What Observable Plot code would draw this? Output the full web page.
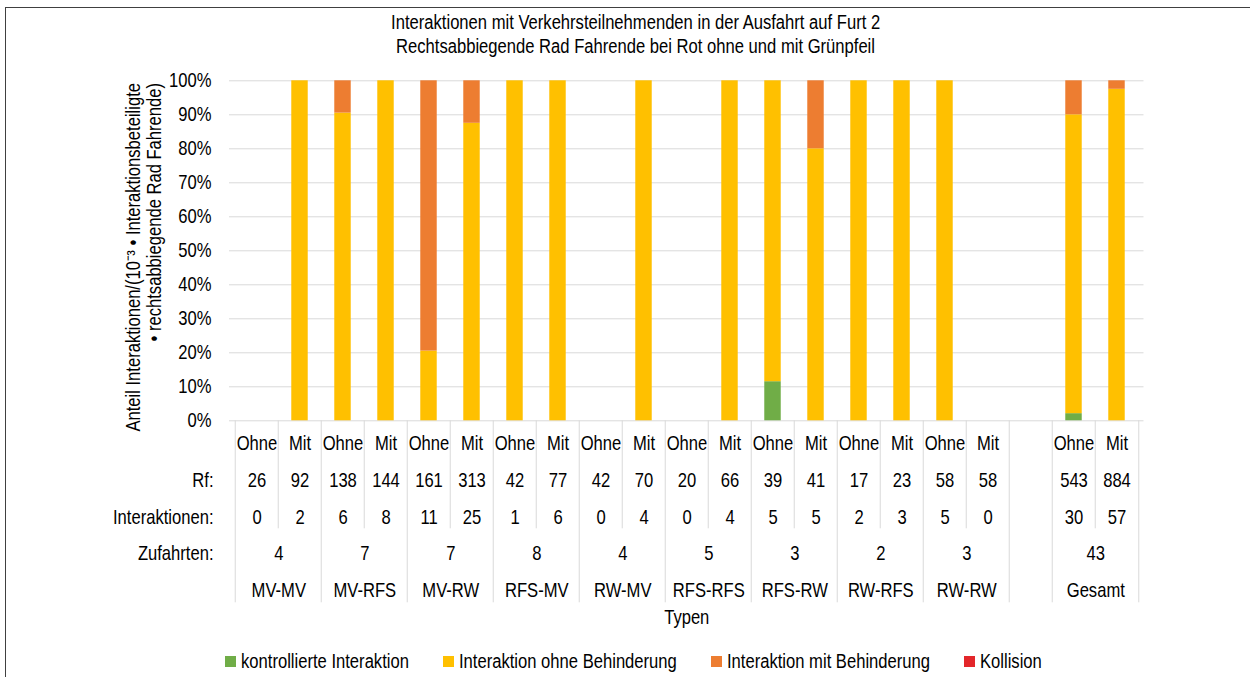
<!DOCTYPE html>
<html>
<head>
<meta charset="utf-8">
<script src="https://cdn.jsdelivr.net/npm/d3@7"></script>
<script src="https://cdn.jsdelivr.net/npm/@observablehq/plot@0.6"></script>
<style>
  html, body { margin: 0; padding: 0; background: #fff; }
  body { width: 1250px; height: 677px; position: relative; overflow: hidden;
         font-family: "Liberation Sans", Arial, sans-serif; color: #000; }
  #border { position: absolute; left: 5px; top: 7px; width: 1300px; height: 700px;
            border-top: 1.5px solid #404040; border-left: 1.5px solid #404040; }
  #title { position: absolute; left: 0; top: 10px; width: 1271px; text-align: center;
           font-size: 20px; line-height: 24px; }
  #title span { display: inline-block; transform: scaleX(0.83); transform-origin: center; white-space: nowrap; }
  #chart { position: absolute; left: 0; top: 0; }
  #overlay { position: absolute; left: 0; top: 0; }
  #legend { position: absolute; left: 225px; top: 650px; display: flex; gap: 34px;
            font-size: 20px; line-height: 22px; white-space: nowrap; }
  #legend .item { display: flex; align-items: center; }
  #legend .sw { width: 11px; height: 11px; margin-right: 5px; flex: none; }
  #legend .lab { display: inline-block; transform: scaleX(0.83); transform-origin: left center; }
</style>
</head>
<body>
<div id="border"></div>
<div id="title">
  <div><span>Interaktionen mit Verkehrsteilnehmenden in der Ausfahrt auf Furt 2</span></div>
  <div><span>Rechtsabbiegende Rad Fahrende bei Rot ohne und mit Grünpfeil</span></div>
</div>
<div id="chart"></div>
<svg id="overlay" width="1250" height="677"></svg>
<div id="legend"></div>
<script>
// ---------------- data ----------------
const types = ["MV-MV", "MV-RFS", "MV-RW", "RFS-MV", "RW-MV", "RFS-RFS", "RFS-RW", "RW-RFS", "RW-RW", "Gesamt"];
const variants = ["Ohne", "Mit"];
const rf            = [26, 92, 138, 144, 161, 313, 42, 77, 42, 70, 20, 66, 39, 41, 17, 23, 58, 58, 543, 884];
const interaktionen = [0, 2, 6, 8, 11, 25, 1, 6, 0, 4, 0, 4, 5, 5, 2, 3, 5, 0, 30, 57];
const zufahrten     = [4, 7, 7, 8, 4, 5, 3, 2, 3, 43];
// shares in % per slot (type x variant), stacked bottom to top
const kontrolliert    = [0, 0, 0, 0, 0, 0, 0, 0, 0, 0, 0, 0, 11.5, 0, 0, 0, 0, 0, 2.1, 0];
const ohneBehinderung = [0, 100, 90.5, 100, 20.5, 87.5, 100, 100, 0, 100, 0, 100, 88.5, 80, 100, 100, 100, 0, 87.9, 97.5];
const mitBehinderung  = [0, 0, 9.5, 0, 79.5, 12.5, 0, 0, 0, 0, 0, 0, 0, 20, 0, 0, 0, 0, 10, 2.5];
const kollision       = [0, 0, 0, 0, 0, 0, 0, 0, 0, 0, 0, 0, 0, 0, 0, 0, 0, 0, 0, 0];
const categories = ["kontrollierte Interaktion", "Interaktion ohne Behinderung", "Interaktion mit Behinderung", "Kollision"];
const colors = ["#70ad47", "#ffc000", "#ed7d31", "#e3262a"];
const yTicks = [0, 0.1, 0.2, 0.3, 0.4, 0.5, 0.6, 0.7, 0.8, 0.9, 1];
const rowLabels = ["Rf:", "Interaktionen:", "Zufahrten:"];
const yTitle = ["Anteil Interaktionen/(10⁻³ • Interaktionsbeteiligte", "• rechtsabbiegende Rad Fahrende)"];
const xTitle = "Typen";
const GAP = "—";

// ---------------- derived tables ----------------
const slotRows = [];
types.forEach((t, i) => variants.forEach((v, j) => {
  const k = i * 2 + j;
  slotRows.push({slot: `${t}|${v}`, type: t, variant: v, rf: rf[k], inter: interaktionen[k]});
}));
const slots = [];
slotRows.forEach(r => { if (r.type === "Gesamt" && r.variant === "Ohne") slots.push(GAP); slots.push(r.slot); });

const series = [kontrolliert, ohneBehinderung, mitBehinderung, kollision];
const bars = [];
series.forEach((vals, c) => slotRows.forEach((r, k) => {
  if (vals[k] > 0) bars.push({slot: r.slot, cat: categories[c], value: vals[k] / 100});
}));
const groups = types.map((t, i) => ({type: t, ohne: `${t}|Ohne`, mit: `${t}|Mit`, zuf: zufahrten[i]}));
const groupEdges = groups.map(g => g.ohne).concat([GAP]);
const innerEdges = groups.map(g => g.mit);

// ---------------- layout ----------------
const W = 1250, H = 640;
const mL = 229, mR = 106.5, mT = 80.3, mB = H - 420.3;
const frameH = H - mT - mB;
const step = (W - mL - mR) / slots.length;
const barW = 17;
const inset = (step - barW) / 2;
const SX = 0.83; // horizontal condensing to mimic a narrow font
const font = "'Liberation Sans', Arial, sans-serif";
const grid = "#d9d9d9";
const rowDy = [29, 66, 103, 139, 176, 203];

const chart = Plot.plot({
  width: W, height: H,
  marginLeft: mL, marginRight: mR, marginTop: mT, marginBottom: mB,
  style: {fontFamily: font, fontSize: "20px", color: "#000", background: "transparent", overflow: "visible"},
  x: {domain: slots, padding: 0, axis: null},
  y: {domain: [0, 1], ticks: yTicks, tickFormat: d3.format(".0%"), tickSize: 0, tickPadding: 18, label: null},
  color: {domain: categories, range: colors},
  marks: [
    Plot.ruleY(yTicks, {stroke: grid, strokeWidth: 1}),
    Plot.barY(bars, {x: "slot", y: "value", fill: "cat", insetLeft: inset, insetRight: inset}),
    // table dividers
    Plot.ruleX(innerEdges, {x: d => d, dx: -step / 2, stroke: grid, insetTop: frameH, insetBottom: -108}),
    Plot.ruleX(groupEdges, {x: d => d, dx: -step / 2, stroke: grid, insetTop: frameH, insetBottom: -182}),
    Plot.ruleX([groups[groups.length - 1].mit], {x: d => d, dx: step / 2, stroke: grid, insetTop: frameH, insetBottom: -182}),
    // table text
    Plot.text(slotRows, {x: "slot", text: "variant", frameAnchor: "bottom", dy: rowDy[0], fill: "#000"}),
    Plot.text(slotRows, {x: "slot", text: d => String(d.rf), frameAnchor: "bottom", dy: rowDy[1], fill: "#000"}),
    Plot.text(slotRows, {x: "slot", text: d => String(d.inter), frameAnchor: "bottom", dy: rowDy[2], fill: "#000"}),
    Plot.text(groups, {x: "ohne", text: d => String(d.zuf), frameAnchor: "bottom", dx: step / 2, dy: rowDy[3], fill: "#000"}),
    Plot.text(groups, {x: "ohne", text: "type", frameAnchor: "bottom", dx: step / 2, dy: rowDy[4], fill: "#000"}),
    Plot.text([rowLabels[0]], {frameAnchor: "bottom-left", textAnchor: "end", dx: -16, dy: rowDy[1], fill: "#000"}),
    Plot.text([rowLabels[1]], {frameAnchor: "bottom-left", textAnchor: "end", dx: -16, dy: rowDy[2], fill: "#000"}),
    Plot.text([rowLabels[2]], {frameAnchor: "bottom-left", textAnchor: "end", dx: -16, dy: rowDy[3], fill: "#000"}),
    Plot.text([xTitle], {frameAnchor: "bottom", dy: rowDy[5], fill: "#000"})
  ]
});
// condense all chart texts around their anchor point
chart.querySelectorAll("text").forEach(t => {
  const tr = t.getAttribute("transform");
  if (tr) t.setAttribute("transform", `${tr} scale(${SX},1)`);
  else {
    const x = +t.getAttribute("x") || 0, y = +t.getAttribute("y") || 0;
    t.setAttribute("transform", `translate(${x},${y}) scale(${SX},1) translate(${-x},${-y})`);
  }
});
document.getElementById("chart").appendChild(chart);

// y-axis title: two rotated lines, top aligned
const ov = d3.select("#overlay");
const yTitleX = [133, 154];
yTitle.forEach((s, i) => {
  ov.append("text")
    .attr("transform", `translate(${yTitleX[i]},83) rotate(-90) scale(${SX},1)`)
    .attr("text-anchor", "end")
    .attr("dy", "0.35em")
    .attr("font-family", font)
    .attr("font-size", 20)
    .attr("fill", "#000")
    .text(s);
});

// legend
const legend = document.getElementById("legend");
categories.forEach((c, i) => {
  const item = document.createElement("div");
  item.className = "item";
  const sw = document.createElement("span");
  sw.className = "sw";
  sw.style.background = colors[i];
  const lab = document.createElement("span");
  lab.className = "lab";
  lab.textContent = c;
  item.appendChild(sw); item.appendChild(lab);
  legend.appendChild(item);
  lab.style.marginRight = `${-(1 - SX) * lab.offsetWidth}px`;
});
</script>
</body>
</html>
